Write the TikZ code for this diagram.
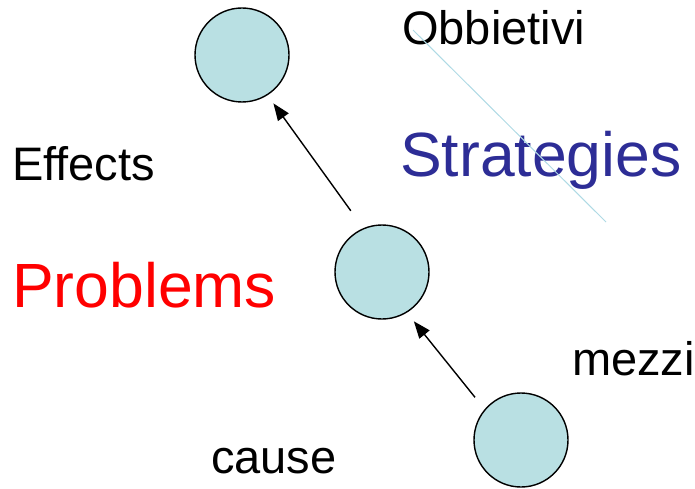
\documentclass[tikz,border=0pt]{standalone}
\usepackage{fontspec}
\setmainfont{Liberation Sans}
\usetikzlibrary{arrows.meta}

\definecolor{ballfill}{RGB}{185,224,227}
\definecolor{stratblue}{RGB}{45,45,150}
\definecolor{paleline}{RGB}{175,218,228}

\begin{document}
\begin{tikzpicture}[x=1pt, y=-1pt, >={Triangle[length=17pt,width=13pt]},
    ball/.style = {draw, circle, fill=ballfill, line width=1.4pt, minimum size=94pt, inner sep=0pt},
    lbl/.style = {anchor=base west, inner sep=0pt, font=\fontsize{47}{52}\selectfont},
    big/.style = {anchor=base west, inner sep=0pt, font=\fontsize{62.5}{68}\selectfont}]
    \useasboundingbox (0,0) rectangle (695,489);
    % Nodes
    \node[ball] (top) at (242, 55) {};
    \node[ball] (mid) at (382, 272) {};
    \node[ball] (bot) at (521, 440) {};

    \node[lbl] (obj) at (402, 45) {Obbietivi};
    \node[big, text=stratblue] (strat) at (400, 176) {Strategies};
    \node[lbl] (eff) at (12, 180) {Effects};
    \node[big, text=red] (prob) at (12, 307) {Problems};
    \node[lbl] (mezzi) at (572, 375) {mezzi};
    \node[lbl] (cause) at (211, 473) {cause};

    % Edges
    \draw[->, line width=1.4pt] ([shift={(117:21pt)}]mid.117) -- ([shift={(-57:10pt)}]top.-57);
    \draw[->, line width=1.4pt] ([shift={(137.6:15pt)}]bot.137.6) -- ([shift={(-57.7:11pt)}]mid.-57.7);

    \draw[paleline, line width=1pt] (413, 30) -- (606, 222);
\end{tikzpicture}
\end{document}
